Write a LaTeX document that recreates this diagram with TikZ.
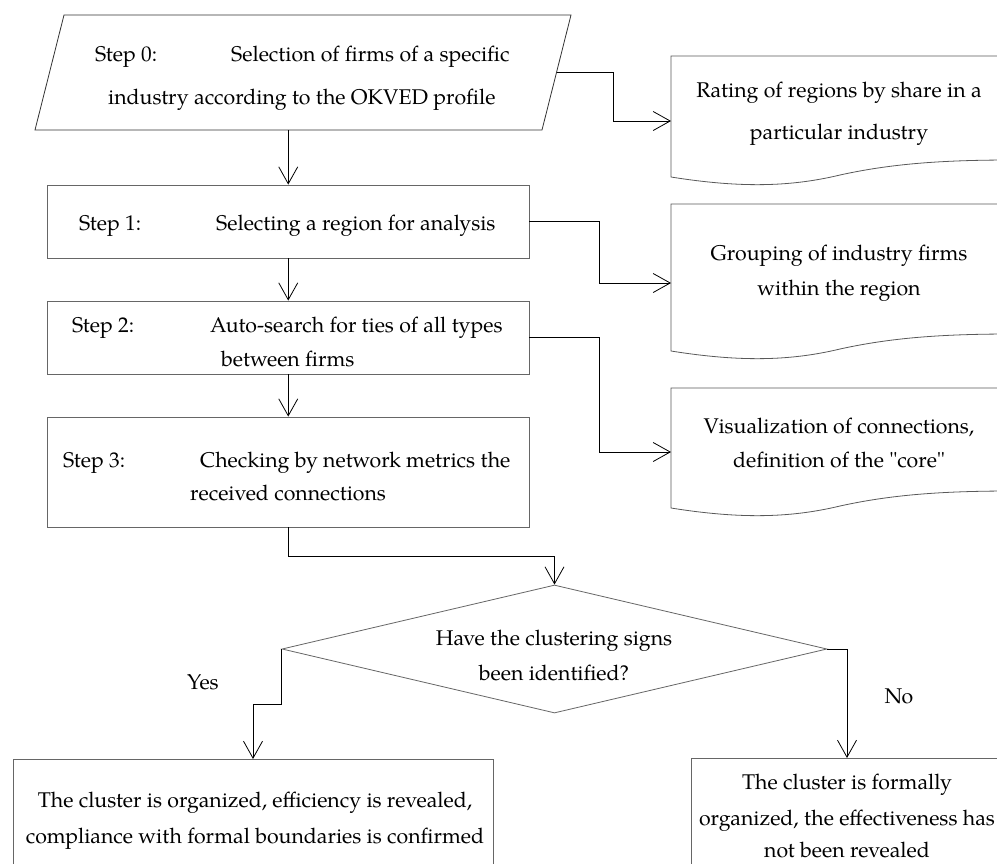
\documentclass[tikz,border=0pt]{standalone}
\usepackage{fontspec}
\setmainfont{TeX Gyre Pagella}[Ligatures=TeXOff]
\usetikzlibrary{arrows.meta,shapes.geometric}
\newcommand\mydoc[2]{%
  \draw[docline] (1012,{#2-17}) -- (1012,#1) -- (671,#1) -- (671,#2)
    .. controls (740,{#2+11}) and (790,{#2+10}) .. (840,{#2-2})
    .. controls (890,{#2-13}) and (940,{#2-17}) .. (1012,{#2-17});}
\begin{document}
\begin{tikzpicture}[x=1pt,y=-1pt,
  txt/.style={font=\fontsize{21.3}{25}\selectfont, inner sep=0pt, anchor=base, text=black},
  ltxt/.style={txt, anchor=base west},
  box/.style={draw=black!60, line width=0.8pt, rectangle, inner sep=0pt},
  docline/.style={draw=black!65, line width=0.8pt},
  ghost/.style={draw=none, inner sep=0pt, rectangle},
  arr/.style={draw=black, line width=1pt, -{Straight Barb[length=17pt,width=19pt,line width=0.8pt]}}]
\clip (0,0) rectangle (997,863);
\fill[white] (0,0) rectangle (997,863);

% step 0 parallelogram (ghost node on its mid-line, outline drawn as path)
\node[ghost, minimum width=507pt, minimum height=115pt] (p0) at (303,72.5) {};
\draw[draw=black!80, line width=0.8pt] (64,15) -- (571,15) -- (542,130) -- (35,130) -- cycle;
\node[ltxt] (t0a) at (95,61) {Step 0:};
\node[ltxt] (t0b) at (231,61) {Selection of firms of a specific};
\node[ltxt] (t0c) at (108,104) {industry according to the OKVED profile};

% step boxes
\node[box, minimum width=481.5pt, minimum height=73pt] (s1) at (288.25,221.5) {};
\node[ltxt] (t1a) at (79,230) {Step 1:};
\node[ltxt] (t1b) at (216,230) {Selecting a region for analysis};

\node[box, minimum width=481.5pt, minimum height=73pt] (s2) at (288.25,337.5) {};
\node[ltxt] (t2a) at (72,332) {Step 2:};
\node[ltxt] (t2b) at (210,332) {Auto-search for ties of all types};
\node[ltxt] (t2c) at (221,366) {between firms};

\node[box, minimum width=481.5pt, minimum height=110pt] (s3) at (288.25,472) {};
\node[ltxt] (t3a) at (63,467) {Step 3:};
\node[ltxt] (t3b) at (200,467) {Checking by network metrics the};
\node[ltxt] (t3c) at (190,500) {received connections};

% document shapes
\mydoc{56}{177}
\node[ghost, minimum width=340pt, minimum height=10pt, anchor=west] (d1) at (671,121) {};
\node[txt] (d1a) at (839,97) {Rating of regions by share in a};
\node[txt] (d1b) at (839,139) {particular industry};

\mydoc{204}{351}
\node[ghost, minimum width=340pt, minimum height=10pt, anchor=west] (d2) at (671,283) {};
\node[txt] (d2a) at (839,260) {Grouping of industry firms};
\node[txt] (d2b) at (839,295) {within the region};

\mydoc{388}{508}
\node[ghost, minimum width=340pt, minimum height=10pt, anchor=west] (d3) at (671,452) {};
\node[txt] (d3a) at (839,433) {Visualization of connections,};
\node[txt] (d3b) at (839,467) {definition of the "core"};

% decision
\node[draw=black!60, line width=0.8pt, diamond, minimum width=545pt, minimum height=128pt, inner sep=0pt] (dm) at (554.5,649) {};
\node[txt] (dma) at (554,645) {Have the clustering signs};
\node[txt] (dmb) at (554,680) {been identified?};

\node[txt] (yes) at (203,689) {Yes};
\node[txt] (no) at (899,703) {No};

% outcomes
\node[box, minimum width=480pt, minimum height=130pt, anchor=north] (bl) at (253,759) {};
\node[txt] (bla) at (255,807) {The cluster is organized, efficiency is revealed,};
\node[txt] (blb) at (255,843) {compliance with formal boundaries is confirmed};

\node[box, minimum width=312pt, minimum height=130pt, anchor=north] (br) at (847,758) {};
\node[txt] (bra) at (847,789) {The cluster is formally};
\node[txt] (brb) at (847,825) {organized, the effectiveness has};
\node[txt] (brc) at (847,857) {not been revealed};

% connectors
\draw[arr] (s1.north |- p0.south) -- (s1.north);
\draw[arr] (s1.south) -- (s2.north);
\draw[arr] (s2.south) -- (s3.north);
\draw[arr] (s3.south) -- ++(0,29) -| (dm.north);
\draw[arr] (p0.east) -- ++(57,0) |- (d1.west);
\draw[arr] (s1.east) -- ++(70,0) |- (d2.west);
\draw[arr] (s2.east) -- ++(70,0) |- (d3.west);
\draw[arr] (dm.west) -- ++(0,55) -| (bl.north);
\draw[arr] (dm.east) -| (br.north);
\end{tikzpicture}
\end{document}
